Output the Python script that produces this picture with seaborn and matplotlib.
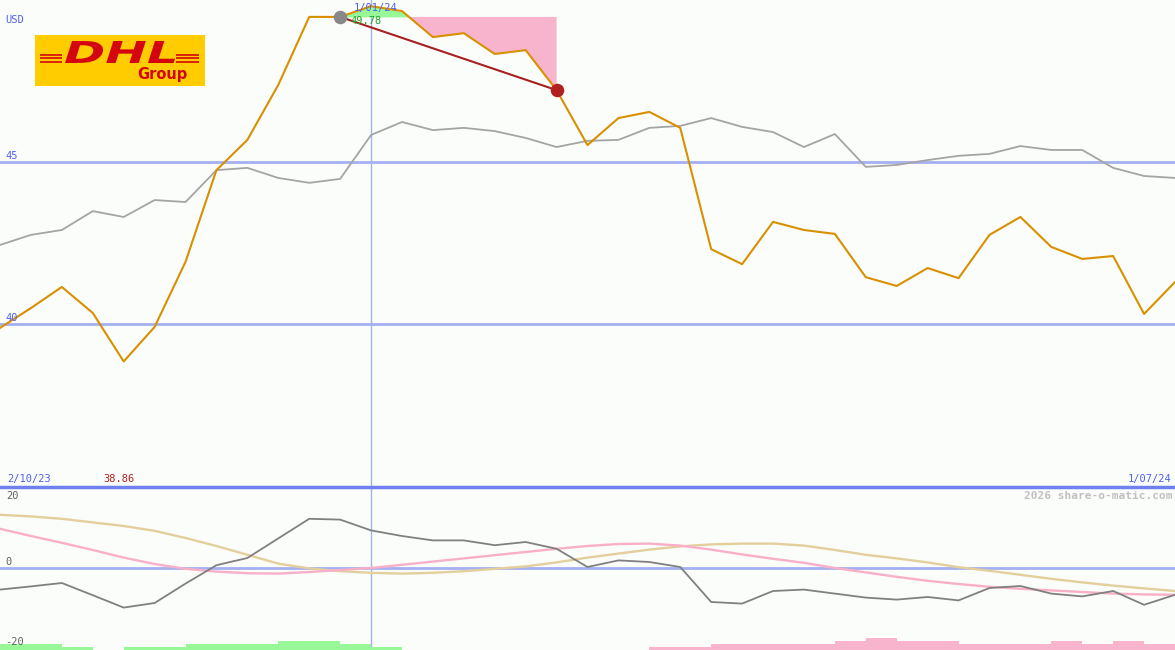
import matplotlib
matplotlib.use("Agg")
import matplotlib.pyplot as plt
import seaborn as sns
import numpy as np
import pandas as pd
from matplotlib.patches import Rectangle, PathPatch
from matplotlib.lines import Line2D
from matplotlib.textpath import TextPath
from matplotlib.font_manager import FontProperties
from matplotlib.transforms import Affine2D

# ---------------- data ----------------
weeks = list(range(39))
price = [39.89, 40.50, 41.15, 40.35, 38.86, 39.92, 41.92, 44.74, 45.67, 47.36,
         49.45, 49.45, 49.78, 49.63, 48.83, 48.95, 48.31, 48.43, 47.20, 45.51,
         46.34, 46.53, 46.04, 42.31, 41.85, 43.15, 42.90, 42.78, 41.45, 41.18,
         41.73, 41.42, 42.75, 43.30, 42.38, 42.01, 42.10, 40.32, 41.30]
index_line = [42.44, 42.75, 42.90, 43.48, 43.30, 43.82, 43.76, 44.74, 44.81, 44.50,
              44.35, 44.47, 45.82, 46.22, 45.97, 46.04, 45.94, 45.73, 45.45, 45.64,
              45.67, 46.04, 46.10, 46.34, 46.07, 45.91, 45.45, 45.85, 44.84, 44.90,
              45.05, 45.18, 45.24, 45.48, 45.36, 45.36, 44.81, 44.56, 44.50]
momentum = [-5.4, -4.6, -3.75, -6.8, -9.9, -8.75, -3.9, 0.7, 2.5, 7.4,
            12.3, 12.1, 9.4, 8.0, 6.9, 6.9, 5.7, 6.5, 4.8, 0.25,
            1.9, 1.5, 0.25, -8.5, -8.9, -5.75, -5.4, -6.4, -7.4, -7.9,
            -7.25, -8.1, -5.0, -4.5, -6.4, -7.1, -5.75, -9.2, -6.7]
signal_pink = [9.8, 8.0, 6.3, 4.5, 2.6, 1.0, -0.2, -0.9, -1.3, -1.4,
               -1.0, -0.5, 0.0, 0.8, 1.6, 2.4, 3.2, 4.0, 4.8, 5.5,
               6.0, 6.1, 5.6, 4.6, 3.4, 2.3, 1.3, 0.0, -1.1, -2.2,
               -3.2, -4.0, -4.7, -5.2, -5.6, -6.0, -6.4, -6.6, -6.7]
signal_tan = [13.3, 12.9, 12.3, 11.4, 10.5, 9.3, 7.5, 5.5, 3.3, 1.1,
              -0.1, -0.8, -1.2, -1.4, -1.2, -0.8, -0.2, 0.4, 1.4, 2.6,
              3.6, 4.6, 5.4, 5.9, 6.1, 6.1, 5.6, 4.5, 3.3, 2.4,
              1.4, 0.2, -0.7, -1.7, -2.7, -3.6, -4.4, -5.1, -5.75]
bars = [1.5, 1.5, 0.75, 0, 0.75, 0.75, 1.5, 1.5, 1.5, 2.25, 2.25, 1.5, 0.75,
        0, 0, 0, 0, 0, 0, 0, 0,
        -0.75, -0.75, -1.5, -1.5, -1.5, -1.5, -2.25, -3, -2.25, -2.25,
        -1.5, -1.5, -1.5, -2.25, -1.5, -2.25, -1.5]
start_label, end_label, mark_label = "2/10/23", "1/07/24", "1/01/24"
min_label, mark_value_label = "38.86", "49.78"
buy_i, sell_i, mark_i = 11, 18, 12
top_ticks = [45, 40]
low_ticks = ["20", "0", "-20"]

# ---------------- style ----------------
BG = "#fbfdfb"
GRID = "#a4b0f0"
BORDER = "#7080f0"
BLUE_TXT = "#5060f0"
ORANGE = "#d89000"
GRAY = "#a4a4a4"
DARK = "#808080"
PINK = "#f8b0c8"
TAN = "#e2cf9c"
GREEN_FILL = "#98f898"
PINK_FILL = "#f8b4cc"
TRADE = "#a52020"
MONO = "DejaVu Sans Mono"

sns.set_style("white")
W, H = 1175, 650
fig = plt.figure(figsize=(W / 100, H / 100), dpi=100)
fig.patch.set_facecolor(BG)

split = 487
ax = fig.add_axes([0, (H - split) / H, 1, split / H])
ax2 = fig.add_axes([0, 0, 1, (H - split) / H])
for a in (ax, ax2):
    a.set_axis_off()

# ---------------- top panel ----------------
for t in top_ticks:
    ax.axhline(t, color=GRID, lw=2, zorder=1)
ax.axvline(mark_i, color=GRID, lw=1, zorder=1)

df = pd.DataFrame({"week": weeks, "price": price, "index": index_line})
sns.lineplot(data=df, x="week", y="index", ax=ax, color=GRAY, lw=1.3, zorder=3)

seg = df.iloc[buy_i:sell_i + 1]
buy = price[buy_i]
xs = np.array(seg["week"], dtype=float)
ys = np.array(seg["price"], dtype=float)
ax.fill_between(xs, ys, buy, where=ys >= buy, interpolate=True, color=GREEN_FILL, lw=0, zorder=2)
ax.fill_between(xs, ys, buy, where=ys <= buy, interpolate=True, color=PINK_FILL, lw=0, zorder=2)

sns.lineplot(data=df, x="week", y="price", ax=ax, color=ORANGE, lw=1.5, zorder=4)
trade = pd.DataFrame({"week": [buy_i, sell_i], "price": [price[buy_i], price[sell_i]]})
sns.lineplot(data=trade, x="week", y="price", ax=ax, color=TRADE, lw=1.5, zorder=5)
sns.scatterplot(x=[buy_i], y=[price[buy_i]], ax=ax, color="#888888", s=95, lw=0, zorder=6)
sns.scatterplot(x=[sell_i], y=[price[sell_i]], ax=ax, color="#b02020", s=95, lw=0, zorder=6)
ax.set_xlabel(""); ax.set_ylabel("")
ax.set_xlim(0, 38)
ax.set_ylim(35.0, 49.97)

# ---------------- lower panel ----------------
ax2.axhline(0, color=GRID, lw=2, zorder=1)
ax2.axvline(mark_i, color=GRID, lw=1, zorder=1)
bar_x = list(range(len(bars)))
ax2.bar(bar_x, [abs(b) for b in bars], bottom=-20.5, width=1.0, align="edge",
        color=[GREEN_FILL if b > 0 else PINK_FILL for b in bars], lw=0, zorder=2)
sns.lineplot(x=weeks, y=signal_tan, ax=ax2, color=TAN, lw=1.7, zorder=3)
sns.lineplot(x=weeks, y=signal_pink, ax=ax2, color=PINK, lw=1.7, zorder=3)
sns.lineplot(x=weeks, y=momentum, ax=ax2, color=DARK, lw=1.3, zorder=4)
ax2.set_xlabel(""); ax2.set_ylabel("")
ax2.set_xlim(0, 38)
ax2.set_ylim(-20.5, 20.25)

fig.add_artist(Line2D([0, 1], [(H - split) / H] * 2, transform=fig.transFigure,
                      color=BORDER, lw=2.5))

# ---------------- text ----------------
def ftext(x, y, s, **kw):
    kw.setdefault("family", MONO)
    kw.setdefault("fontsize", 7.5)
    kw.setdefault("va", "center")
    fig.text(x / W, 1 - y / H, s, **kw)

ftext(5, 20, "USD", color=BLUE_TXT)
ftext(5, 156, str(top_ticks[0]), color=BLUE_TXT)
ftext(5, 318, str(top_ticks[1]), color=BLUE_TXT)
ftext(7, 479, start_label, color=BLUE_TXT)
ftext(103, 479, min_label, color="#b02020")
ftext(1171, 479, end_label, color=BLUE_TXT, ha="right")
ftext(354, 8, mark_label, color=BLUE_TXT)
ftext(350, 21, mark_value_label, color="#20a020")
ftext(6, 496, low_ticks[0], color="#606060")
ftext(5, 562, low_ticks[1], color="#606060")
ftext(5, 642, low_ticks[2], color="#606060")
ftext(1172, 496, "2026 share-o-matic.com", color="#c0c0c0", ha="right",
      fontweight="bold", fontsize=8)

# ---------------- logo ----------------
lax = fig.add_axes([35 / W, 1 - 86 / H, 170 / W, 51 / H])
lax.set_xlim(0, 170); lax.set_ylim(51, 0)
lax.add_patch(Rectangle((0, 0), 170, 51, color="#ffcc00"))
lax.set_axis_off()
RED = "#d40511"
tp = TextPath((0, 0), "DHL", size=1,
              prop=FontProperties(family="DejaVu Sans", weight="heavy", style="italic"))
ext = tp.get_extents()
bx0, bx1, by0, by1 = 30, 140, 6, 28
tr = (Affine2D().translate(-ext.x0, -ext.y0)
      .scale((bx1 - bx0) / ext.width, -(by1 - by0) / ext.height)
      .translate(bx0, by1))
lax.add_patch(PathPatch(tr.transform_path(tp), color=RED, lw=0))
for yy in (19.5, 23, 26.5):
    lax.plot([5, 27], [yy, yy], color=RED, lw=1.2, solid_capstyle="butt")
    lax.plot([141, 164], [yy, yy], color=RED, lw=1.2, solid_capstyle="butt")
lax.text(127, 39, "Group", color=RED, fontsize=10.5, fontweight="bold",
         ha="center", va="center", family="DejaVu Sans")

fig.savefig("out.png", dpi=100, facecolor=BG)
